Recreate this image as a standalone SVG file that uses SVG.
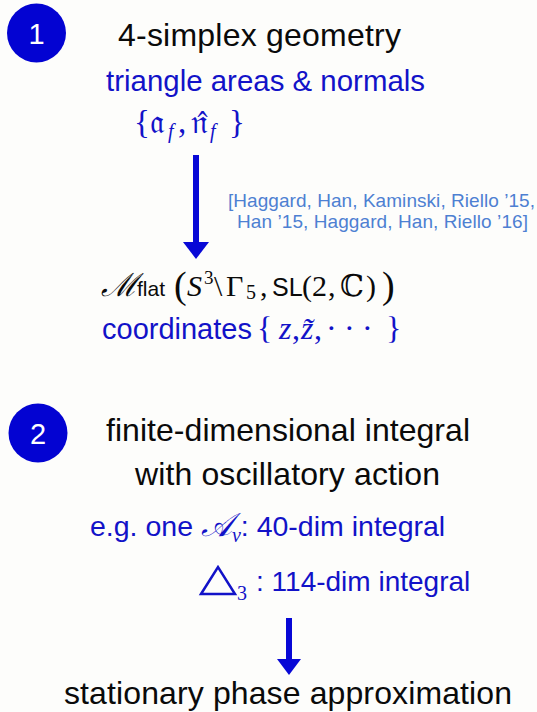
<svg xmlns="http://www.w3.org/2000/svg" width="537" height="712" viewBox="0 0 537 712">
<defs>
<style>
.sans{font-family:"Liberation Sans","Helvetica",Arial,sans-serif}
.serif{font-family:"Liberation Serif","DejaVu Serif",serif}
.blk{fill:#0a0a0a}
.blu{fill:#1212c8}
.cite{fill:#4d80d2;font-size:19px}
.badge{fill:#0303d2}
.num{fill:#ffffff;font-size:29px;text-anchor:middle}
.arrow{stroke:#0808d6;stroke-width:6;fill:none}
.head{fill:#0808d6}
</style>
</defs>
<rect width="537" height="712" fill="#fdfdfb"/>
<g id="badge1">
<circle class="badge" cx="36.5" cy="33" r="29.5"/>
<text class="sans num" x="36.5" y="43.5">1</text>
</g>
<g id="geometry">
<text class="sans blk" x="118" y="46" font-size="32" textLength="283">4-simplex geometry</text>
<text class="sans blu" x="106" y="91" font-size="29.4" textLength="319">triangle areas &amp; normals</text>
<text class="serif blu" y="133" font-size="33"><tspan x="134">{</tspan><tspan x="150">𝔞</tspan><tspan x="168" font-style="italic" font-size="20" dy="5">f</tspan><tspan x="178" dy="-5">,</tspan><tspan x="191">𝔫̂</tspan><tspan x="210" font-style="italic" font-size="20" dy="5">f</tspan><tspan x="229" dy="-5">}</tspan></text>
</g>
<g id="citation">
<text class="sans cite" x="228" y="207" textLength="307">[Haggard, Han, Kaminski, Riello ’15,</text>
<text class="sans cite" x="237" y="228" textLength="291">Han ’15, Haggard, Han, Riello ’16]</text>
</g>
<g id="moduli">
<text class="serif blk" y="296" font-size="30"><tspan x="101" font-size="32" font-style="italic">ℳ</tspan><tspan x="137" class="sans" font-size="21">flat</tspan><tspan x="174" font-size="38" dy="2">(</tspan><tspan x="187" font-style="italic" dy="-2">S</tspan><tspan x="204" font-size="19" dy="-12">3</tspan><tspan x="214" dy="12">\</tspan><tspan x="226">Γ</tspan><tspan x="246" font-size="20" dy="3">5</tspan><tspan x="260" dy="-3">,</tspan><tspan x="272" class="sans" font-size="25">SL</tspan><tspan x="302">(</tspan><tspan x="312">2</tspan><tspan x="328">,</tspan><tspan x="340">ℂ</tspan><tspan x="366">)</tspan><tspan x="382" font-size="38" dy="2">)</tspan></text>
<text class="blu" y="339"><tspan class="sans" x="102" font-size="29">coordinates</tspan><tspan class="serif" font-size="32" x="257">{</tspan><tspan class="serif" font-size="32" font-style="italic" x="279">z</tspan><tspan class="serif" font-size="32" x="292">,</tspan><tspan class="serif" font-size="32" font-style="italic" x="301">z̃</tspan><tspan class="serif" font-size="32" x="314">,</tspan><tspan class="serif" font-size="32" x="326 344 362">···</tspan><tspan class="serif" font-size="32" x="386">}</tspan></text>
</g>
<g id="badge2">
<circle class="badge" cx="38" cy="433" r="29.5"/>
<text class="sans num" x="38" y="443.5">2</text>
</g>
<g id="integral">
<text class="sans blk" x="106" y="441" font-size="32" textLength="364">finite-dimensional integral</text>
<text class="sans blk" x="135" y="485" font-size="32" textLength="305">with oscillatory action</text>
<text class="sans blu" x="90" y="536" font-size="28.5">e.g. one <tspan class="serif" font-style="italic" font-size="33">𝒜</tspan><tspan class="serif" font-style="italic" font-size="20" dy="6">v</tspan><tspan dy="-6">: 40-dim integral</tspan></text>
<path d="M201,594 L218,567 L235,594 Z" fill="none" stroke="#1212c8" stroke-width="2.5"/>
<text class="serif blu" x="237" y="600" font-size="20">3</text>
<text class="sans blu" x="256" y="591" font-size="28">: 114-dim integral</text>
</g>
<g id="phase">
<text class="sans blk" x="64" y="704" font-size="32" textLength="448">stationary phase approximation</text>
</g>
<g id="connectors">
<line class="arrow" x1="196" y1="155" x2="196" y2="244"/>
<polygon class="head" points="183,242 209,242 196,259"/>
<line class="arrow" x1="289" y1="618" x2="289" y2="661"/>
<polygon class="head" points="277,659 301,659 289,675"/>
</g>
</svg>
